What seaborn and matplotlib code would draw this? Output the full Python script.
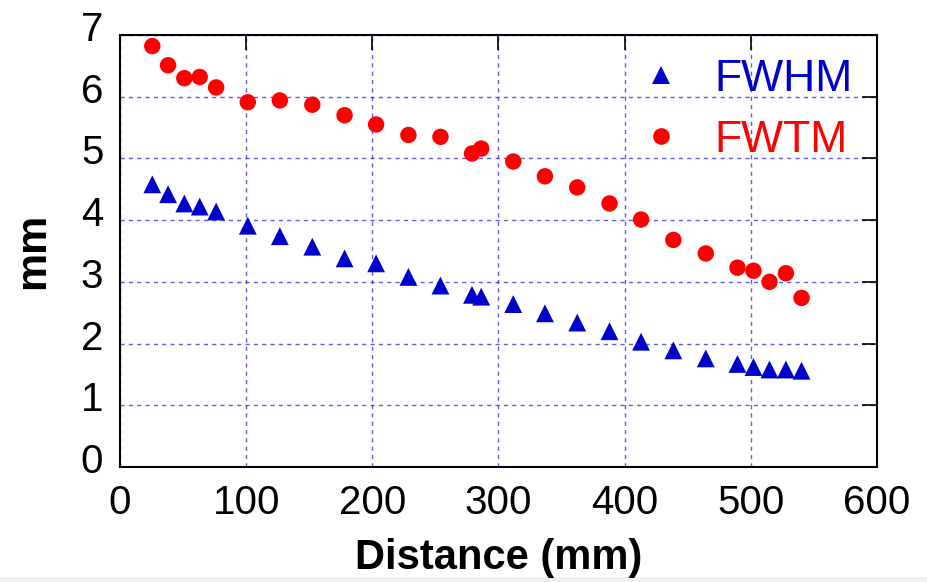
import matplotlib
matplotlib.use("Agg")
import matplotlib.pyplot as plt
from matplotlib.lines import Line2D
from matplotlib.patches import Rectangle
from matplotlib.transforms import ScaledTranslation
import pandas as pd
import seaborn as sns

# Source-to-detector distance (mm)
distance = [25.6, 38.1, 51.0, 63.2, 76.2, 101.3, 126.7, 152.4, 178.0, 203.0,
            228.6, 254.0, 279.0, 286.3, 311.7, 336.8, 362.4, 388.0, 413.0,
            438.6, 464.3, 489.4, 502.1, 514.8, 527.8, 540.2]

# Full width at half maximum (mm)
fwhm = [4.58, 4.42, 4.27, 4.22, 4.14, 3.91, 3.74, 3.57, 3.38, 3.30,
        3.08, 2.94, 2.79, 2.76, 2.64, 2.49, 2.34, 2.20, 2.03,
        1.89, 1.76, 1.67, 1.62, 1.58, 1.58, 1.56]

# Full width at tenth maximum (mm)
fwtm = [6.82, 6.51, 6.30, 6.32, 6.15, 5.91, 5.94, 5.87, 5.70, 5.55,
        5.38, 5.35, 5.08, 5.16, 4.95, 4.71, 4.53, 4.27, 4.01,
        3.68, 3.46, 3.23, 3.18, 3.00, 3.14, 2.74]

x_ticks = [0, 100, 200, 300, 400, 500, 600]
y_ticks = [0, 1, 2, 3, 4, 5, 6, 7]

BLUE = "#0000cc"
RED = "#ff0000"

df = pd.DataFrame({"distance": distance, "FWHM": fwhm, "FWTM": fwtm})

sns.set_style("white")
plt.rcParams["font.family"] = ["Liberation Sans", "DejaVu Sans"]
plt.rcParams["text.color"] = "black"
plt.rcParams["axes.labelcolor"] = "black"

fig = plt.figure(figsize=(9.28, 5.82), dpi=100)
ax = fig.add_axes([120 / 928, 1 - 467 / 582, (877 - 120) / 928, (467 - 35) / 582])

sns.scatterplot(data=df, x="distance", y="FWHM", ax=ax, marker="^", s=165,
                color=BLUE, edgecolor="none", linewidth=0, zorder=3)
sns.scatterplot(data=df, x="distance", y="FWTM", ax=ax, marker="o", s=140,
                color=RED, edgecolor="none", linewidth=0, zorder=3)

ax.set_xlim(0, 600)
ax.set_ylim(0, 7)
ax.set_xticks(x_ticks)
ax.set_yticks(y_ticks)

ax.grid(True, color="#2828e0", alpha=0.75, linestyle=(0, (3, 3)), linewidth=1.0)
ax.set_axisbelow(True)

for side in ax.spines.values():
    side.set_color("black")
    side.set_linewidth(1.5)

ax.tick_params(axis="both", which="major", direction="in", length=11, width=1.2,
               top=True, right=True, labelsize=29, pad=12, colors="black")

# y tick labels sit slightly above their ticks
lift = ScaledTranslation(0, 9 / 100, fig.dpi_scale_trans)
for lab in ax.get_yticklabels():
    lab.set_transform(lab.get_transform() + lift)

ax.set_xlabel("Distance (mm)", fontsize=30, fontweight="bold", labelpad=12,
              color="black")
ax.set_ylabel("mm", fontsize=31, fontweight="bold", labelpad=20, color="black")

handles = [
    Line2D([], [], marker="^", linestyle="none", color=BLUE, markersize=12.5,
           markeredgewidth=0),
    Line2D([], [], marker="o", linestyle="none", color=RED, markersize=12,
           markeredgewidth=0),
]
leg = ax.legend(handles, ["FWHM", "FWTM"], loc="center left",
                bbox_to_anchor=(639 / 928, 1 - 110 / 582),
                bbox_transform=fig.transFigure, frameon=False, fontsize=32,
                handlelength=1.0, handletextpad=0.7, labelspacing=0.45,
                borderpad=0, borderaxespad=0)
for txt, col in zip(leg.get_texts(), [BLUE, RED]):
    txt.set_color(col)

# thin light band along the bottom edge
fig.patches.append(Rectangle((0, 0), 1, 5 / 582, transform=fig.transFigure,
                             facecolor="#f0f0f0", edgecolor="none", zorder=-1))

fig.savefig("out.png", dpi=100)
